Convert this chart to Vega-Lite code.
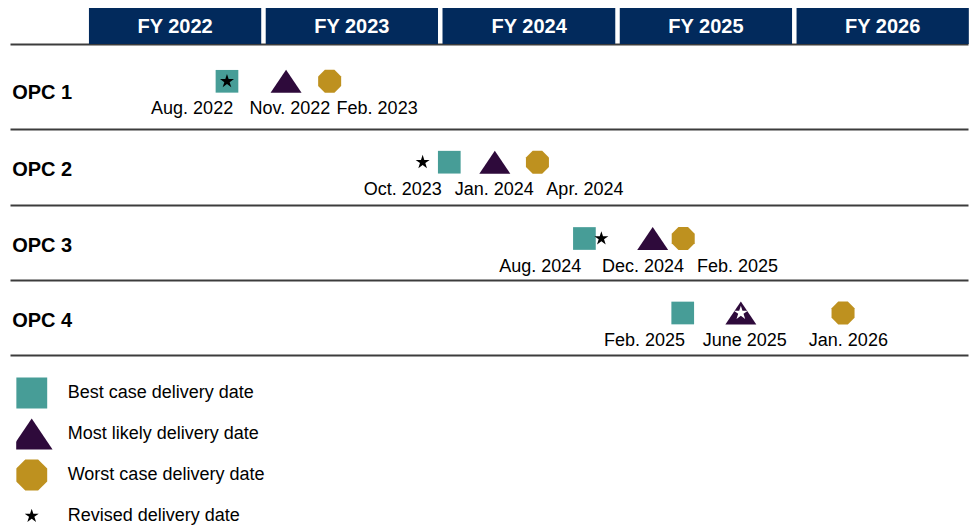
{
  "$schema": "https://vega.github.io/schema/vega-lite/v6.json",
  "autosize": "none",
  "padding": {"left": 10, "top": 0, "right": 4, "bottom": 0},
  "width": 958,
  "height": 527,
  "background": "white",
  "config": {"view": {"stroke": null}, "font": "Liberation Sans"},
  "datasets": {
    "fy": [
      {"fy": "FY 2022", "start": "2021-10-01", "end": "2022-10-01", "mid": "2022-04-01"},
      {"fy": "FY 2023", "start": "2022-10-01", "end": "2023-10-01", "mid": "2023-04-01"},
      {"fy": "FY 2024", "start": "2023-10-01", "end": "2024-10-01", "mid": "2024-04-01"},
      {"fy": "FY 2025", "start": "2024-10-01", "end": "2025-10-01", "mid": "2025-04-01"},
      {"fy": "FY 2026", "start": "2025-10-01", "end": "2026-10-01", "mid": "2026-04-01"}
    ],
    "markers": [
      {"opc": "OPC 1", "n": 1, "type": "Best case delivery date", "date": "2022-07-13"},
      {"opc": "OPC 1", "n": 1, "type": "Most likely delivery date", "date": "2022-11-12"},
      {"opc": "OPC 1", "n": 1, "type": "Worst case delivery date", "date": "2023-02-10"},
      {"opc": "OPC 2", "n": 2, "type": "Best case delivery date", "date": "2023-10-15"},
      {"opc": "OPC 2", "n": 2, "type": "Most likely delivery date", "date": "2024-01-17"},
      {"opc": "OPC 2", "n": 2, "type": "Worst case delivery date", "date": "2024-04-14"},
      {"opc": "OPC 3", "n": 3, "type": "Best case delivery date", "date": "2024-07-20"},
      {"opc": "OPC 3", "n": 3, "type": "Most likely delivery date", "date": "2024-12-08"},
      {"opc": "OPC 3", "n": 3, "type": "Worst case delivery date", "date": "2025-02-09"},
      {"opc": "OPC 4", "n": 4, "type": "Best case delivery date", "date": "2025-02-08"},
      {"opc": "OPC 4", "n": 4, "type": "Most likely delivery date", "date": "2025-06-08"},
      {"opc": "OPC 4", "n": 4, "type": "Worst case delivery date", "date": "2026-01-05"},
      {"opc": "OPC 1", "n": 1, "type": "Revised delivery date", "date": "2022-07-13"},
      {"opc": "OPC 2", "n": 2, "type": "Revised delivery date", "date": "2023-08-21"},
      {"opc": "OPC 3", "n": 3, "type": "Revised delivery date", "date": "2024-08-24"},
      {"opc": "OPC 4", "n": 4, "type": "Revised delivery date", "date": "2025-06-08"}
    ],
    "labels": [
      {"opc": "OPC 1", "n": 1, "label": "Aug. 2022", "date": "2022-05-02"},
      {"opc": "OPC 1", "n": 1, "label": "Nov. 2022", "date": "2022-11-20"},
      {"opc": "OPC 1", "n": 1, "label": "Feb. 2023", "date": "2023-05-19"},
      {"opc": "OPC 2", "n": 2, "label": "Oct. 2023", "date": "2023-07-11"},
      {"opc": "OPC 2", "n": 2, "label": "Jan. 2024", "date": "2024-01-16"},
      {"opc": "OPC 2", "n": 2, "label": "Apr. 2024", "date": "2024-07-21"},
      {"opc": "OPC 3", "n": 3, "label": "Aug. 2024", "date": "2024-04-20"},
      {"opc": "OPC 3", "n": 3, "label": "Dec. 2024", "date": "2024-11-18"},
      {"opc": "OPC 3", "n": 3, "label": "Feb. 2025", "date": "2025-06-01"},
      {"opc": "OPC 4", "n": 4, "label": "Feb. 2025", "date": "2024-11-21"},
      {"opc": "OPC 4", "n": 4, "label": "June 2025", "date": "2025-06-16"},
      {"opc": "OPC 4", "n": 4, "label": "Jan. 2026", "date": "2026-01-16"}
    ]
  },
  "layer": [
    {
      "data": {"name": "fy"},
      "mark": {"type": "rect", "color": "#022A5C", "x2Offset": -4.5},
      "encoding": {
        "x": {"field": "start", "type": "temporal", "axis": null,
              "scale": {"type": "utc", "domain": [{"year": 2021, "month": 4, "date": 21, "utc": true}, {"year": 2026, "month": 9, "date": 20, "utc": true}]}},
        "x2": {"field": "end"},
        "y": {"datum": 0, "type": "quantitative",
              "scale": {"type": "linear", "domain": [0, 0.5, 1, 1.5, 2, 2.5, 3, 3.5, 4, 4.5], "range": [8, 44, 81.3, 129.3, 162.2, 204.7, 238.5, 280, 313, 355], "nice": false, "zero": false},
              "axis": {"title": null, "values": [0.5, 1, 1.5, 2, 2.5, 3, 3.5, 4, 4.5], "domain": false, "ticks": false, "tickSize": 0, "grid": true, "gridColor": "#3c3c3c", "gridWidth": 1.8,
                "gridOpacity": {"condition": {"test": "datum.value % 1 === 0", "value": 0}, "value": 1},
                "labelExpr": "datum.value % 1 === 0 ? 'OPC ' + datum.value : ''",
                "labelAlign": "left", "labelBaseline": "middle", "labelPadding": -1.7,
                "labelOffset": {"condition": {"test": "datum.value === 1", "value": 11.5}, "value": 7},
                "labelFont": "Liberation Sans", "labelFontSize": 20, "labelFontWeight": "bold", "labelColor": "#000000",
                "labelOverlap": false, "labelFlush": false, "labelBound": false}},
        "y2": {"datum": 0.5}
      }
    },
    {
      "data": {"name": "fy"},
      "mark": {"type": "text", "color": "white", "fontWeight": "bold", "fontSize": 20, "font": "Liberation Sans", "dx": -2, "dy": 1, "baseline": "middle", "align": "center"},
      "encoding": {
        "x": {"field": "mid", "type": "temporal", "axis": null,
              "scale": {"type": "utc", "domain": [{"year": 2021, "month": 4, "date": 21, "utc": true}, {"year": 2026, "month": 9, "date": 20, "utc": true}]}},
        "y": {"datum": 0.25, "type": "quantitative",
              "scale": {"type": "linear", "domain": [0, 0.5, 1, 1.5, 2, 2.5, 3, 3.5, 4, 4.5], "range": [8, 44, 81.3, 129.3, 162.2, 204.7, 238.5, 280, 313, 355], "nice": false, "zero": false},
              "axis": {"title": null, "values": [0.5, 1, 1.5, 2, 2.5, 3, 3.5, 4, 4.5], "domain": false, "ticks": false, "tickSize": 0, "grid": true, "gridColor": "#3c3c3c", "gridWidth": 1.8,
                "gridOpacity": {"condition": {"test": "datum.value % 1 === 0", "value": 0}, "value": 1},
                "labelExpr": "datum.value % 1 === 0 ? 'OPC ' + datum.value : ''",
                "labelAlign": "left", "labelBaseline": "middle", "labelPadding": -1.7,
                "labelOffset": {"condition": {"test": "datum.value === 1", "value": 11.5}, "value": 7},
                "labelFont": "Liberation Sans", "labelFontSize": 20, "labelFontWeight": "bold", "labelColor": "#000000",
                "labelOverlap": false, "labelFlush": false, "labelBound": false}},
        "text": {"field": "fy"}
      }
    },
    {
      "data": {"name": "markers"},
      "mark": {"type": "point", "filled": true, "opacity": 1, "strokeWidth": 0},
      "encoding": {
        "x": {"field": "date", "type": "temporal", "axis": null,
              "scale": {"type": "utc", "domain": [{"year": 2021, "month": 4, "date": 21, "utc": true}, {"year": 2026, "month": 9, "date": 20, "utc": true}]}},
        "y": {"field": "n", "type": "quantitative",
              "scale": {"type": "linear", "domain": [0, 0.5, 1, 1.5, 2, 2.5, 3, 3.5, 4, 4.5], "range": [8, 44, 81.3, 129.3, 162.2, 204.7, 238.5, 280, 313, 355], "nice": false, "zero": false},
              "axis": {"title": null, "values": [0.5, 1, 1.5, 2, 2.5, 3, 3.5, 4, 4.5], "domain": false, "ticks": false, "tickSize": 0, "grid": true, "gridColor": "#3c3c3c", "gridWidth": 1.8,
                "gridOpacity": {"condition": {"test": "datum.value % 1 === 0", "value": 0}, "value": 1},
                "labelExpr": "datum.value % 1 === 0 ? 'OPC ' + datum.value : ''",
                "labelAlign": "left", "labelBaseline": "middle", "labelPadding": -1.7,
                "labelOffset": {"condition": {"test": "datum.value === 1", "value": 11.5}, "value": 7},
                "labelFont": "Liberation Sans", "labelFontSize": 20, "labelFontWeight": "bold", "labelColor": "#000000",
                "labelOverlap": false, "labelFlush": false, "labelBound": false}},
        "color": {
          "field": "type", "type": "nominal",
          "condition": {"test": "datum.n === 4 && datum.type === 'Revised delivery date'", "value": "#ffffff"},
          "scale": {"domain": ["Best case delivery date", "Most likely delivery date", "Worst case delivery date", "Revised delivery date"],
                    "range": ["#479D97", "#2E0A3B", "#BE911F", "#000000"]},
          "legend": {
            "title": null, "orient": "none", "legendX": 6.2, "legendY": 372.5, "direction": "vertical",
            "padding": 0, "symbolSize": 961, "symbolStrokeWidth": 0, "symbolOffset": 0, "clipHeight": 41,
            "labelOffset": 20.5, "rowPadding": 0, "labelFont": "Liberation Sans", "labelFontSize": 18,
            "labelColor": "#000000", "labelLimit": 400
          }
        },
        "shape": {
          "field": "type", "type": "nominal",
          "scale": {"domain": ["Best case delivery date", "Most likely delivery date", "Worst case delivery date", "Revised delivery date"],
                    "range": ["square",
                              "M-1.345,1L1.345,1L0,-1Z",
                              "M-0.4142,-1L0.4142,-1L1,-0.4142L1,0.4142L0.4142,1L-0.4142,1L-1,0.4142L-1,-0.4142Z",
                              "M0,-0.475L0.1066,-0.1468L0.4517,-0.1468L0.1724,0.0561L0.2793,0.3843L0,0.1815L-0.2793,0.3843L-0.1724,0.0561L-0.4517,-0.1468L-0.1066,-0.1468Z"]},
          "legend": {
            "title": null, "orient": "none", "legendX": 6.2, "legendY": 372.5, "direction": "vertical",
            "padding": 0, "symbolSize": 961, "symbolStrokeWidth": 0, "symbolOffset": 0, "clipHeight": 41,
            "labelOffset": 20.5, "rowPadding": 0, "labelFont": "Liberation Sans", "labelFontSize": 18,
            "labelColor": "#000000", "labelLimit": 400
          }
        },
        "size": {
          "field": "type", "type": "nominal", "legend": null,
          "scale": {"type": "ordinal", "domain": ["Revised delivery date", "Best case delivery date", "Most likely delivery date", "Worst case delivery date"],
                    "range": [961, 515, 531, 529]}
        }
      }
    },
    {
      "data": {"name": "labels"},
      "mark": {"type": "text", "fontSize": 18, "font": "Liberation Sans", "color": "#000000", "dy": 28, "baseline": "middle", "align": "center"},
      "encoding": {
        "x": {"field": "date", "type": "temporal", "axis": null,
              "scale": {"type": "utc", "domain": [{"year": 2021, "month": 4, "date": 21, "utc": true}, {"year": 2026, "month": 9, "date": 20, "utc": true}]}},
        "y": {"field": "n", "type": "quantitative",
              "scale": {"type": "linear", "domain": [0, 0.5, 1, 1.5, 2, 2.5, 3, 3.5, 4, 4.5], "range": [8, 44, 81.3, 129.3, 162.2, 204.7, 238.5, 280, 313, 355], "nice": false, "zero": false},
              "axis": {"title": null, "values": [0.5, 1, 1.5, 2, 2.5, 3, 3.5, 4, 4.5], "domain": false, "ticks": false, "tickSize": 0, "grid": true, "gridColor": "#3c3c3c", "gridWidth": 1.8,
                "gridOpacity": {"condition": {"test": "datum.value % 1 === 0", "value": 0}, "value": 1},
                "labelExpr": "datum.value % 1 === 0 ? 'OPC ' + datum.value : ''",
                "labelAlign": "left", "labelBaseline": "middle", "labelPadding": -1.7,
                "labelOffset": {"condition": {"test": "datum.value === 1", "value": 11.5}, "value": 7},
                "labelFont": "Liberation Sans", "labelFontSize": 20, "labelFontWeight": "bold", "labelColor": "#000000",
                "labelOverlap": false, "labelFlush": false, "labelBound": false}},
        "text": {"field": "label"}
      }
    }
  ]
}
